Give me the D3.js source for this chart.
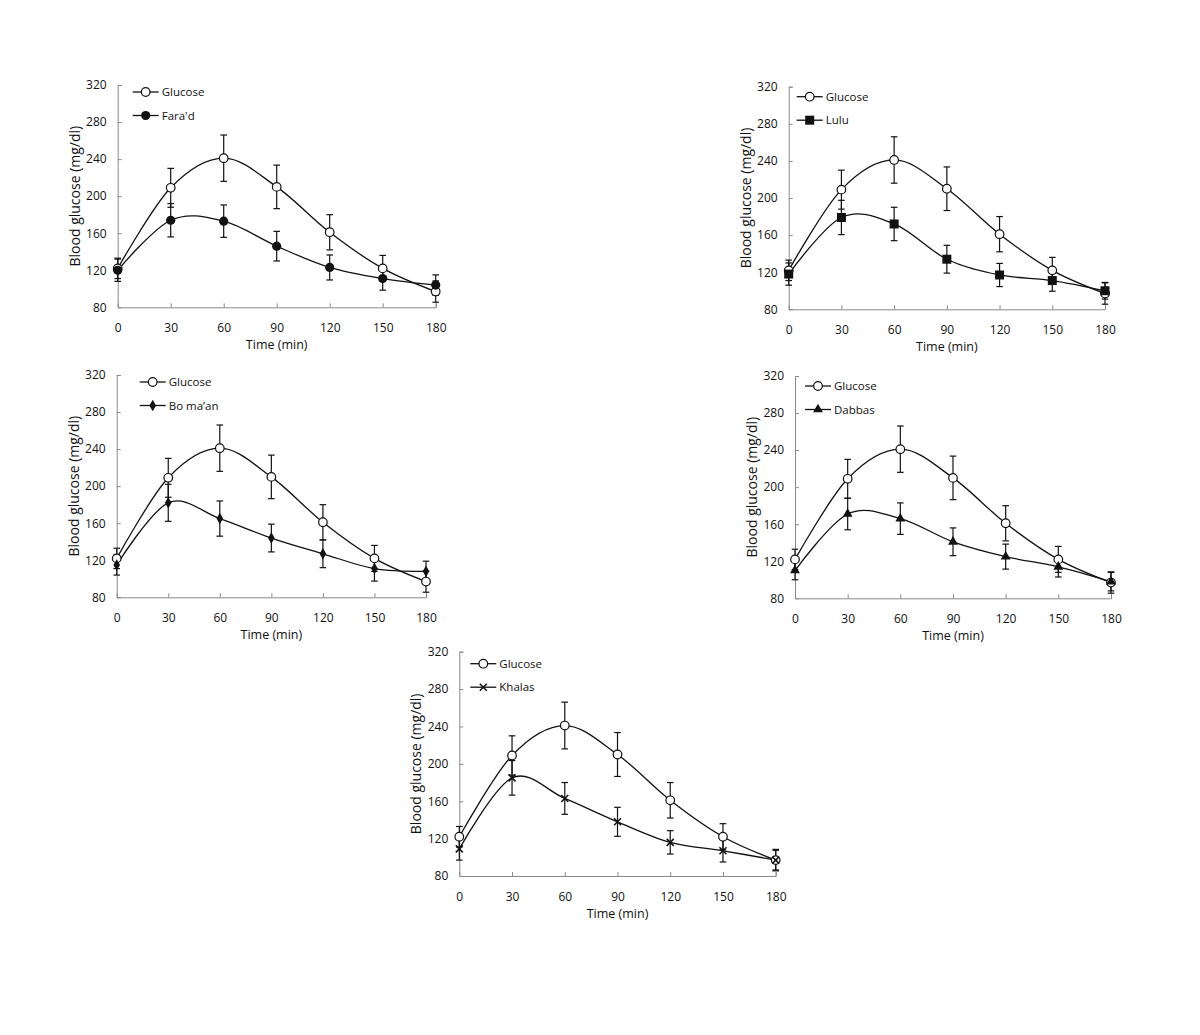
<!DOCTYPE html>
<html>
<head>
<meta charset="utf-8">
<script src="https://cdn.jsdelivr.net/npm/d3@7"></script>
<style>
  body { margin: 0; background: #fff; }
  svg text { font-family: "Open Sans", "Noto Sans", sans-serif; fill: #111; }
</style>
</head>
<body>
<div id="chart"></div>
<script>
// Time points and axis ticks
const times = [0, 30, 60, 90, 120, 150, 180];
const yTicks = [80, 120, 160, 200, 240, 280, 320];

// Glucose (control) - same curve in every panel
const glucoseMean = [122, 209, 241, 210, 161, 122, 97];
const glucoseErr  = [11, 21, 25, 23.5, 19, 14, 11.5];

// Date varieties
const faradMean = [120, 174, 173, 146, 123, 111, 104];
const faradErr  = [12, 18, 17.5, 16, 13.5, 12.5, 11];
const luluMean  = [118, 179, 172, 134, 117, 111, 100];
const luluErr   = [12, 18.5, 18, 15, 12.5, 11.5, 9];
const bomaanMean = [115, 182, 165, 144, 127, 111, 108];
const bomaanErr  = [11, 20, 19, 15, 15, 13.5, 11];
const dabbasMean = [110, 171, 166, 141, 125, 114, 98];
const dabbasErr  = [10, 17, 17, 15, 13.5, 11, 10];
const khalasMean = [109, 185, 163, 138, 116, 107, 97];
const khalasErr  = [12, 18.5, 17, 15.5, 12.5, 12, 10.5];

// panel layout (plot box in page pixels) + legend offset
const panels = [
  { name: "Fara'd",   mean: faradMean,  err: faradErr,  marker: "circle",
    box: { left: 117.7, right: 435.7, top: 85,    bottom: 307.3 }, leg: { dx: 15, dy: 7 } },
  { name: "Lulu",     mean: luluMean,   err: luluErr,   marker: "square",
    box: { left: 788.7, right: 1105,  top: 86.7,  bottom: 309.3 }, leg: { dx: 8, dy: 10 } },
  { name: "Bo ma\u2019an", mean: bomaanMean, err: bomaanErr, marker: "diamond",
    box: { left: 116.7, right: 426,   top: 375,   bottom: 597.3 }, leg: { dx: 23, dy: 7 } },
  { name: "Dabbas",   mean: dabbasMean, err: dabbasErr, marker: "triangle",
    box: { left: 795,   right: 1111,  top: 376,   bottom: 598.3 }, leg: { dx: 10, dy: 10 } },
  { name: "Khalas",   mean: khalasMean, err: khalasErr, marker: "cross",
    box: { left: 459.3, right: 775.7, top: 651.7, bottom: 876 },   leg: { dx: 11, dy: 12 } }
];

const width = 1200, height = 1035;
const axisColor = '#8a8a8a';
const ink = '#111';

const svg = d3.select('#chart').append('svg')
  .attr('width', width)
  .attr('height', height)
  .style('background', '#fff');

// draw a marker of given type centred at 0,0 inside g
function drawMarker(g, type) {
  if (type === 'open') {
    g.append('circle').attr('r', 4.3).attr('fill', '#fff').attr('stroke', ink).attr('stroke-width', 1.2);
  } else if (type === 'circle') {
    g.append('circle').attr('r', 4.6).attr('fill', ink);
  } else if (type === 'square') {
    g.append('rect').attr('x', -4.5).attr('y', -4.5).attr('width', 9).attr('height', 9).attr('fill', ink);
  } else if (type === 'diamond') {
    g.append('path').attr('d', d3.symbol(d3.symbolDiamond, 38)()).attr('fill', ink);
  } else if (type === 'triangle') {
    g.append('path').attr('d', d3.symbol(d3.symbolTriangle, 42)()).attr('fill', ink);
  } else if (type === 'cross') {
    g.append('path').attr('d', 'M-3.5,-3.5L3.5,3.5M-3.5,3.5L3.5,-3.5')
      .attr('stroke', ink).attr('stroke-width', 1.5).attr('fill', 'none');
  }
}

panels.forEach(p => {
  const b = p.box;
  const x = d3.scaleLinear().domain([0, 180]).range([b.left, b.right]);
  const y = d3.scaleLinear().domain([80, 320]).range([b.bottom, b.top]);

  const g = svg.append('g');

  // axes
  const yAxis = g.append('g')
    .attr('transform', `translate(${b.left},0)`)
    .call(d3.axisLeft(y).tickValues(yTicks).tickSize(-4).tickPadding(11));
  const xAxis = g.append('g')
    .attr('transform', `translate(0,${b.bottom})`)
    .call(d3.axisBottom(x).tickValues(times).tickSize(-4).tickPadding(16));
  [yAxis, xAxis].forEach(a => {
    a.select('.domain').attr('stroke', axisColor);
    a.selectAll('.tick line').attr('stroke', axisColor);
    a.selectAll('.tick text').style('font-size', '12px').attr('fill', ink);
  });
  // hide the inward tick at the axis corner
  xAxis.selectAll('.tick line').filter(d => d === 0).remove();
  yAxis.selectAll('.tick line').filter(d => d === 80).remove();

  // axis titles
  g.append('text')
    .attr('x', (b.left + b.right) / 2)
    .attr('y', b.bottom + 42)
    .attr('text-anchor', 'middle')
    .style('font-size', '12.5px')
    .text('Time (min)');
  g.append('text')
    .attr('transform', `translate(${b.left - 43},${(b.top + b.bottom) / 2}) rotate(-90)`)
    .attr('dy', '0.35em')
    .attr('text-anchor', 'middle')
    .style('font-size', '14px')
    .text('Blood glucose (mg/dl)');

  const line = d3.line()
    .x((d, i) => x(times[i]))
    .y(d => y(d))
    .curve(d3.curveCardinal.tension(0));

  const series = [
    { mean: glucoseMean, err: glucoseErr, marker: 'open' },
    { mean: p.mean, err: p.err, marker: p.marker }
  ];

  series.forEach(s => {
    // error bars
    const eb = g.append('g').attr('stroke', ink).attr('stroke-width', 1.2);
    s.mean.forEach((m, i) => {
      const cx = x(times[i]);
      const hi = y(m + s.err[i]), lo = y(m - s.err[i]);
      eb.append('line').attr('x1', cx).attr('x2', cx).attr('y1', hi).attr('y2', lo);
      eb.append('line').attr('x1', cx - 3.3).attr('x2', cx + 3.3).attr('y1', hi).attr('y2', hi);
      eb.append('line').attr('x1', cx - 3.3).attr('x2', cx + 3.3).attr('y1', lo).attr('y2', lo);
    });
    // smoothed line
    g.append('path')
      .datum(s.mean)
      .attr('d', line)
      .attr('fill', 'none')
      .attr('stroke', ink)
      .attr('stroke-width', 1.3);
  });

  // markers on top
  series.forEach(s => {
    s.mean.forEach((m, i) => {
      drawMarker(g.append('g').attr('transform', `translate(${x(times[i])},${y(m)})`), s.marker);
    });
  });

  // legend
  const legend = g.append('g')
    .attr('transform', `translate(${b.left + p.leg.dx},${b.top + p.leg.dy})`);
  [{ label: 'Glucose', marker: 'open' }, { label: p.name, marker: p.marker }].forEach((it, i) => {
    const row = legend.append('g').attr('transform', `translate(0,${i * 23.5})`);
    row.append('line').attr('x1', 0).attr('x2', 26).attr('y1', 0).attr('y2', 0)
      .attr('stroke', ink).attr('stroke-width', 1.3);
    drawMarker(row.append('g').attr('transform', 'translate(13,0)'), it.marker);
    row.append('text')
      .attr('x', 29)
      .attr('dy', '0.35em')
      .style('font-size', '11.5px')
      .text(it.label);
  });
});
</script>
</body>
</html>
